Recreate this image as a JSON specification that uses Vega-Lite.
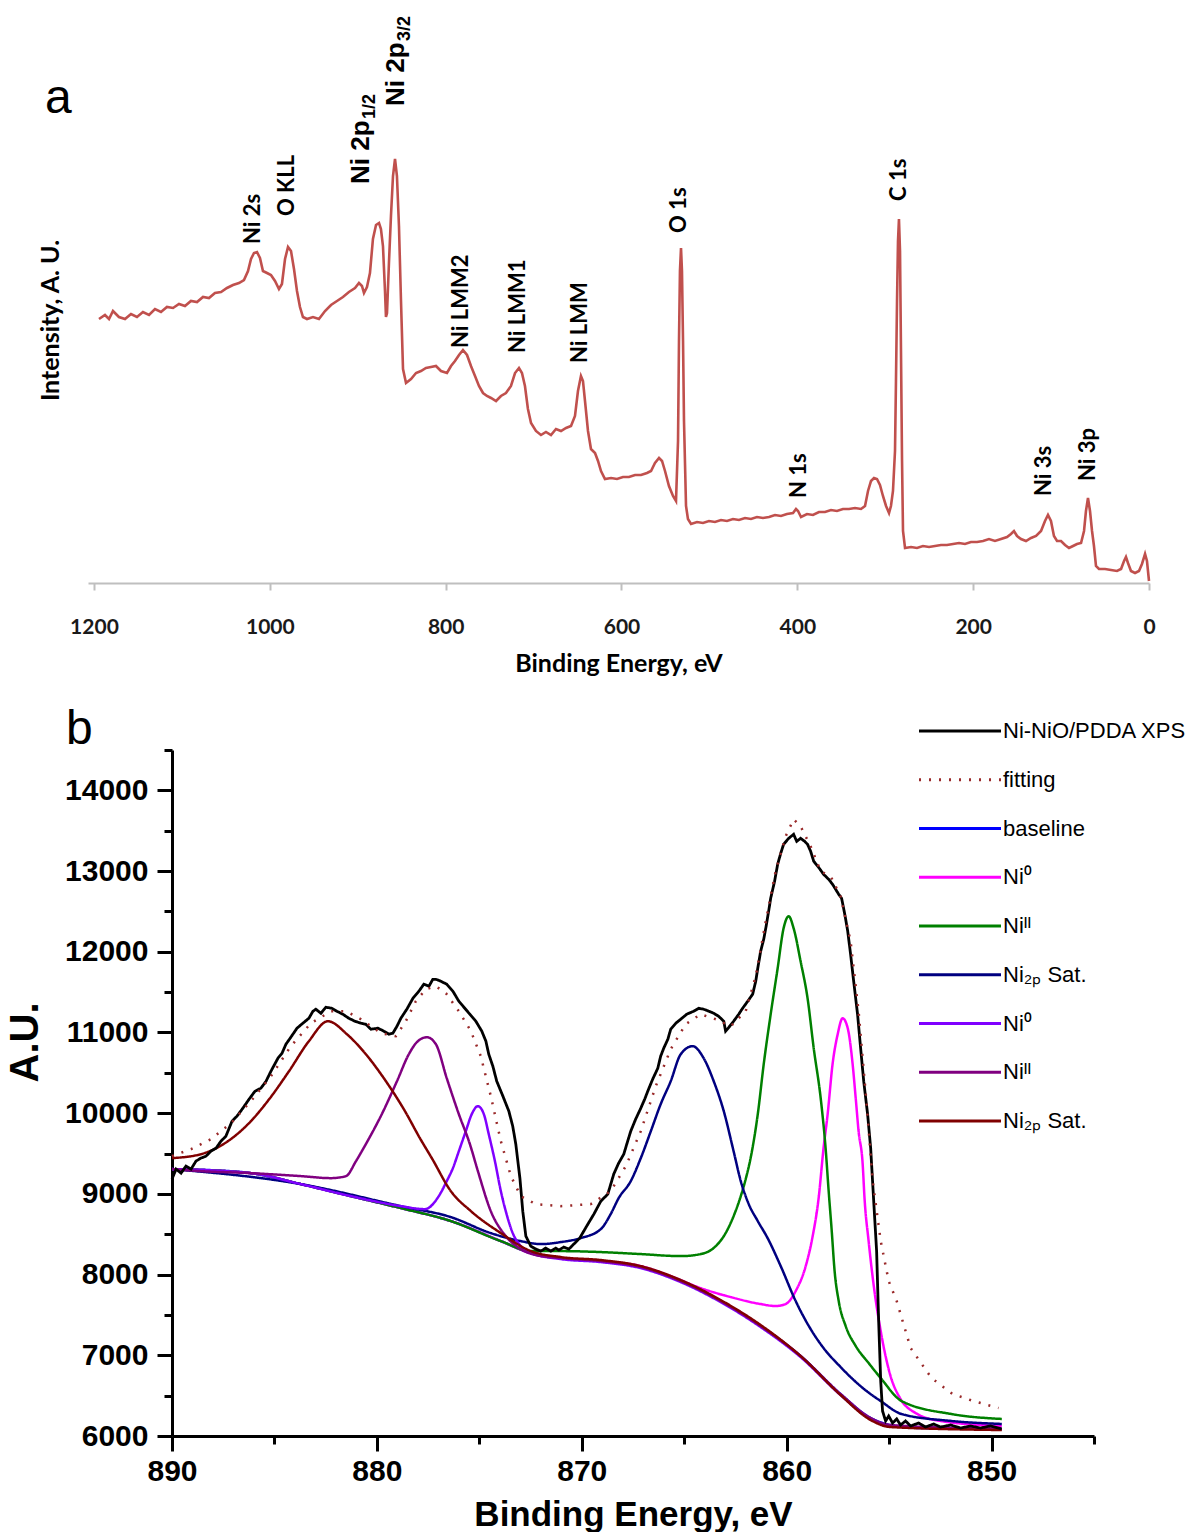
{
"$schema": "https://vega.github.io/schema/vega-lite/v6.json",
"background": "white",
"padding": {"left": 5, "top": 15, "right": 0, "bottom": 0},
"spacing": 30,
"config": {"view": {"stroke": null}, "font": "Liberation Sans"},
"datasets": {
"survey": [
{"E":1194.3,"I":264},{"E":1187.5,"I":268},{"E":1182.9,"I":264},{"E":1178.4,"I":272},{"E":1171.6,"I":266},{"E":1164.7,"I":264},{"E":1157.9,"I":269},{"E":1151.1,"I":266},{"E":1144.3,"I":271},{"E":1137.4,"I":268},{"E":1130.6,"I":274},{"E":1123.8,"I":271},{"E":1117.0,"I":276},{"E":1110.1,"I":275},{"E":1103.3,"I":279},{"E":1096.5,"I":277},{"E":1089.7,"I":282},{"E":1082.8,"I":281},{"E":1076.0,"I":286},{"E":1069.2,"I":285},{"E":1062.4,"I":290},{"E":1055.5,"I":291},{"E":1048.7,"I":295},{"E":1041.9,"I":298},{"E":1035.1,"I":300},{"E":1029.4,"I":303},{"E":1024.8,"I":312},{"E":1021.4,"I":324},{"E":1018.0,"I":330},{"E":1014.6,"I":331},{"E":1011.2,"I":325},{"E":1007.8,"I":312},{"E":1003.2,"I":310},{"E":998.7,"I":308},{"E":994.1,"I":302},{"E":989.6,"I":294},{"E":986.2,"I":299},{"E":982.7,"I":324},{"E":979.3,"I":336},{"E":975.9,"I":332},{"E":972.5,"I":314},{"E":969.1,"I":292},{"E":965.7,"I":276},{"E":962.3,"I":266},{"E":957.7,"I":264},{"E":950.9,"I":266},{"E":944.1,"I":264},{"E":937.2,"I":272},{"E":930.4,"I":278},{"E":923.6,"I":282},{"E":916.8,"I":286},{"E":910.0,"I":291},{"E":903.1,"I":295},{"E":898.6,"I":300},{"E":895.2,"I":297},{"E":892.9,"I":290},{"E":889.5,"I":296},{"E":886.1,"I":310},{"E":882.7,"I":344},{"E":879.2,"I":358},{"E":875.8,"I":360},{"E":873.6,"I":354},{"E":871.3,"I":337},{"E":869.0,"I":292},{"E":867.9,"I":266},{"E":866.7,"I":270},{"E":864.5,"I":320},{"E":862.2,"I":367},{"E":859.9,"I":407},{"E":857.6,"I":424},{"E":855.4,"I":407},{"E":853.1,"I":357},{"E":850.8,"I":282},{"E":848.5,"I":214},{"E":845.1,"I":200},{"E":839.4,"I":204},{"E":833.7,"I":210},{"E":828.1,"I":212},{"E":822.4,"I":215},{"E":816.7,"I":216},{"E":811.0,"I":217},{"E":805.3,"I":212},{"E":798.5,"I":210},{"E":793.9,"I":217},{"E":789.4,"I":222},{"E":784.8,"I":228},{"E":780.3,"I":233},{"E":775.7,"I":228},{"E":771.2,"I":217},{"E":766.6,"I":207},{"E":762.1,"I":197},{"E":757.5,"I":190},{"E":753.0,"I":187},{"E":748.4,"I":185},{"E":742.7,"I":182},{"E":737.1,"I":187},{"E":731.4,"I":190},{"E":725.7,"I":197},{"E":721.1,"I":210},{"E":716.6,"I":215},{"E":713.2,"I":210},{"E":709.8,"I":197},{"E":706.4,"I":174},{"E":702.9,"I":160},{"E":697.3,"I":152},{"E":691.6,"I":148},{"E":685.9,"I":151},{"E":680.2,"I":148},{"E":674.5,"I":154},{"E":668.8,"I":152},{"E":663.1,"I":155},{"E":657.4,"I":157},{"E":652.9,"I":167},{"E":649.5,"I":192},{"E":646.1,"I":207},{"E":643.8,"I":202},{"E":641.5,"I":182},{"E":638.1,"I":152},{"E":634.7,"I":134},{"E":630.1,"I":130},{"E":626.7,"I":122},{"E":623.3,"I":112},{"E":618.8,"I":104},{"E":611.9,"I":105},{"E":605.1,"I":104},{"E":598.3,"I":106},{"E":591.5,"I":106},{"E":584.6,"I":108},{"E":577.8,"I":108},{"E":571.0,"I":110},{"E":566.4,"I":112},{"E":561.9,"I":120},{"E":557.3,"I":125},{"E":553.9,"I":122},{"E":550.5,"I":112},{"E":546.0,"I":97},{"E":541.4,"I":87},{"E":538.0,"I":82},{"E":535.7,"I":142},{"E":534.6,"I":242},{"E":533.5,"I":312},{"E":532.3,"I":335},{"E":531.2,"I":312},{"E":530.0,"I":242},{"E":528.9,"I":162},{"E":526.6,"I":77},{"E":524.4,"I":64},{"E":520.9,"I":59},{"E":514.1,"I":61},{"E":507.3,"I":60},{"E":500.5,"I":62},{"E":493.7,"I":61},{"E":486.8,"I":63},{"E":480.0,"I":62},{"E":473.2,"I":64},{"E":466.4,"I":63},{"E":459.5,"I":65},{"E":452.7,"I":64},{"E":445.9,"I":66},{"E":439.1,"I":65},{"E":432.2,"I":66},{"E":425.4,"I":68},{"E":418.6,"I":67},{"E":411.8,"I":69},{"E":404.9,"I":70},{"E":401.5,"I":74},{"E":399.2,"I":72},{"E":395.8,"I":66},{"E":389.0,"I":69},{"E":382.2,"I":68},{"E":375.4,"I":71},{"E":368.5,"I":71},{"E":361.7,"I":73},{"E":354.9,"I":72},{"E":348.1,"I":74},{"E":341.2,"I":74},{"E":334.4,"I":75},{"E":327.6,"I":74},{"E":323.0,"I":77},{"E":319.6,"I":92},{"E":316.2,"I":102},{"E":312.8,"I":105},{"E":309.4,"I":104},{"E":306.0,"I":98},{"E":302.6,"I":87},{"E":299.1,"I":77},{"E":295.7,"I":70},{"E":293.5,"I":77},{"E":291.2,"I":92},{"E":288.9,"I":132},{"E":287.8,"I":202},{"E":286.6,"I":282},{"E":285.5,"I":342},{"E":284.4,"I":364},{"E":283.2,"I":332},{"E":282.1,"I":232},{"E":280.9,"I":122},{"E":279.8,"I":52},{"E":277.5,"I":35},{"E":270.7,"I":36},{"E":263.9,"I":35},{"E":257.1,"I":37},{"E":250.2,"I":36},{"E":243.4,"I":37},{"E":236.6,"I":38},{"E":229.8,"I":38},{"E":222.9,"I":39},{"E":216.1,"I":40},{"E":209.3,"I":39},{"E":202.5,"I":41},{"E":195.6,"I":41},{"E":188.8,"I":42},{"E":182.0,"I":44},{"E":175.2,"I":42},{"E":168.3,"I":44},{"E":161.5,"I":46},{"E":157.0,"I":49},{"E":153.6,"I":52},{"E":150.1,"I":47},{"E":145.6,"I":44},{"E":139.9,"I":42},{"E":134.2,"I":45},{"E":128.5,"I":47},{"E":122.8,"I":52},{"E":118.3,"I":62},{"E":114.9,"I":68},{"E":111.5,"I":62},{"E":108.1,"I":47},{"E":104.6,"I":42},{"E":100.1,"I":42},{"E":95.5,"I":38},{"E":91.0,"I":35},{"E":86.4,"I":37},{"E":81.9,"I":39},{"E":77.3,"I":40},{"E":73.9,"I":52},{"E":71.7,"I":72},{"E":69.4,"I":85},{"E":67.1,"I":72},{"E":64.8,"I":52},{"E":62.6,"I":37},{"E":60.3,"I":17},{"E":56.9,"I":14},{"E":50.0,"I":14},{"E":43.2,"I":13},{"E":36.4,"I":12},{"E":31.8,"I":14},{"E":28.4,"I":22},{"E":26.2,"I":26},{"E":23.9,"I":20},{"E":20.5,"I":12},{"E":15.9,"I":10},{"E":11.4,"I":12},{"E":8.0,"I":19},{"E":4.5,"I":29},{"E":2.3,"I":22},{"E":0,"I":2}
],
"peaks": [
{"E":1019.2,"I":339,"label":"Ni 2s"},{"E":980.5,"I":367,"label":"O KLL"},{"E":782.6,"I":235,"label":"Ni LMM2"},{"E":717.7,"I":230,"label":"Ni LMM1"},{"E":647.2,"I":220,"label":"Ni LMM"},{"E":534.6,"I":350,"label":"O 1s"},{"E":398.1,"I":85,"label":"N 1s"},{"E":284.4,"I":382,"label":"C 1s"},{"E":119.4,"I":87,"label":"Ni 3s"},{"E":69.4,"I":102,"label":"Ni 3p"}
],
"ni2p": [
{"E":896.3,"I":399,"label":"Ni 2p"},{"E":856.5,"I":477,"label":"Ni 2p"}
],
"ni2psub": [
{"E":886.1,"I":464,"label":"1/2"},{"E":846.3,"I":542,"label":"3/2"}
],
"nip": [
{"s":"XPS","E":890.00,"V":9183},{"s":"XPS","E":889.80,"V":9307},{"s":"XPS","E":889.56,"V":9257},{"s":"XPS","E":889.32,"V":9344},{"s":"XPS","E":889.07,"V":9307},{"s":"XPS","E":888.83,"V":9406},{"s":"XPS","E":888.59,"V":9443},{"s":"XPS","E":888.34,"V":9468},{"s":"XPS","E":888.10,"V":9529},{"s":"XPS","E":887.85,"V":9567},{"s":"XPS","E":887.61,"V":9653},{"s":"XPS","E":887.37,"V":9715},{"s":"XPS","E":887.07,"V":9901},{"s":"XPS","E":886.83,"V":9963},{"s":"XPS","E":886.54,"V":10062},{"s":"XPS","E":886.24,"V":10173},{"s":"XPS","E":885.95,"V":10272},{"s":"XPS","E":885.66,"V":10310},{"s":"XPS","E":885.41,"V":10396},{"s":"XPS","E":885.17,"V":10520},{"s":"XPS","E":884.83,"V":10681},{"s":"XPS","E":884.63,"V":10743},{"s":"XPS","E":884.44,"V":10854},{"s":"XPS","E":884.20,"V":10941},{"s":"XPS","E":883.90,"V":11053},{"s":"XPS","E":883.61,"V":11115},{"s":"XPS","E":883.32,"V":11176},{"s":"XPS","E":883.12,"V":11263},{"s":"XPS","E":882.98,"V":11288},{"s":"XPS","E":882.73,"V":11238},{"s":"XPS","E":882.49,"V":11313},{"s":"XPS","E":882.20,"V":11300},{"s":"XPS","E":881.95,"V":11263},{"s":"XPS","E":881.66,"V":11226},{"s":"XPS","E":881.37,"V":11176},{"s":"XPS","E":881.07,"V":11139},{"s":"XPS","E":880.78,"V":11115},{"s":"XPS","E":880.54,"V":11102},{"s":"XPS","E":880.29,"V":11040},{"s":"XPS","E":879.95,"V":11053},{"s":"XPS","E":879.66,"V":11016},{"s":"XPS","E":879.41,"V":10978},{"s":"XPS","E":879.22,"V":10991},{"s":"XPS","E":879.02,"V":11077},{"s":"XPS","E":878.83,"V":11176},{"s":"XPS","E":878.54,"V":11288},{"s":"XPS","E":878.24,"V":11424},{"s":"XPS","E":877.95,"V":11511},{"s":"XPS","E":877.71,"V":11598},{"s":"XPS","E":877.46,"V":11573},{"s":"XPS","E":877.27,"V":11659},{"s":"XPS","E":877.12,"V":11659},{"s":"XPS","E":876.88,"V":11635},{"s":"XPS","E":876.59,"V":11598},{"s":"XPS","E":876.29,"V":11511},{"s":"XPS","E":876.00,"V":11387},{"s":"XPS","E":875.71,"V":11300},{"s":"XPS","E":875.46,"V":11226},{"s":"XPS","E":875.17,"V":11139},{"s":"XPS","E":874.88,"V":11016},{"s":"XPS","E":874.68,"V":10892},{"s":"XPS","E":874.54,"V":10731},{"s":"XPS","E":874.34,"V":10582},{"s":"XPS","E":874.15,"V":10396},{"s":"XPS","E":873.85,"V":10211},{"s":"XPS","E":873.56,"V":10025},{"s":"XPS","E":873.37,"V":9839},{"s":"XPS","E":873.22,"V":9616},{"s":"XPS","E":873.02,"V":9195},{"s":"XPS","E":872.88,"V":8786},{"s":"XPS","E":872.73,"V":8477},{"s":"XPS","E":872.49,"V":8353},{"s":"XPS","E":872.24,"V":8316},{"s":"XPS","E":872.00,"V":8291},{"s":"XPS","E":871.76,"V":8328},{"s":"XPS","E":871.51,"V":8291},{"s":"XPS","E":871.27,"V":8328},{"s":"XPS","E":871.12,"V":8303},{"s":"XPS","E":870.88,"V":8341},{"s":"XPS","E":870.63,"V":8316},{"s":"XPS","E":870.44,"V":8365},{"s":"XPS","E":870.24,"V":8415},{"s":"XPS","E":870.10,"V":8452},{"s":"XPS","E":869.76,"V":8601},{"s":"XPS","E":869.41,"V":8749},{"s":"XPS","E":869.07,"V":8910},{"s":"XPS","E":868.73,"V":8997},{"s":"XPS","E":868.44,"V":9245},{"s":"XPS","E":868.20,"V":9381},{"s":"XPS","E":867.95,"V":9492},{"s":"XPS","E":867.76,"V":9653},{"s":"XPS","E":867.61,"V":9777},{"s":"XPS","E":867.37,"V":9926},{"s":"XPS","E":867.12,"V":10062},{"s":"XPS","E":866.93,"V":10173},{"s":"XPS","E":866.78,"V":10272},{"s":"XPS","E":866.54,"V":10421},{"s":"XPS","E":866.29,"V":10557},{"s":"XPS","E":866.15,"V":10706},{"s":"XPS","E":866.00,"V":10805},{"s":"XPS","E":865.80,"V":10916},{"s":"XPS","E":865.66,"V":11040},{"s":"XPS","E":865.41,"V":11115},{"s":"XPS","E":865.17,"V":11164},{"s":"XPS","E":864.88,"V":11226},{"s":"XPS","E":864.54,"V":11263},{"s":"XPS","E":864.29,"V":11300},{"s":"XPS","E":864.05,"V":11288},{"s":"XPS","E":863.80,"V":11263},{"s":"XPS","E":863.56,"V":11238},{"s":"XPS","E":863.32,"V":11201},{"s":"XPS","E":863.07,"V":11139},{"s":"XPS","E":862.98,"V":11016},{"s":"XPS","E":862.78,"V":11077},{"s":"XPS","E":862.59,"V":11139},{"s":"XPS","E":862.34,"V":11226},{"s":"XPS","E":862.15,"V":11300},{"s":"XPS","E":861.90,"V":11387},{"s":"XPS","E":861.66,"V":11474},{"s":"XPS","E":861.51,"V":11635},{"s":"XPS","E":861.41,"V":11796},{"s":"XPS","E":861.27,"V":12006},{"s":"XPS","E":861.12,"V":12155},{"s":"XPS","E":861.02,"V":12291},{"s":"XPS","E":860.88,"V":12502},{"s":"XPS","E":860.78,"V":12663},{"s":"XPS","E":860.59,"V":12873},{"s":"XPS","E":860.44,"V":13084},{"s":"XPS","E":860.29,"V":13220},{"s":"XPS","E":860.15,"V":13331},{"s":"XPS","E":859.90,"V":13406},{"s":"XPS","E":859.66,"V":13455},{"s":"XPS","E":859.51,"V":13368},{"s":"XPS","E":859.32,"V":13406},{"s":"XPS","E":859.12,"V":13368},{"s":"XPS","E":858.98,"V":13331},{"s":"XPS","E":858.83,"V":13245},{"s":"XPS","E":858.68,"V":13121},{"s":"XPS","E":858.44,"V":13046},{"s":"XPS","E":858.20,"V":12960},{"s":"XPS","E":857.95,"V":12898},{"s":"XPS","E":857.76,"V":12836},{"s":"XPS","E":857.61,"V":12774},{"s":"XPS","E":857.46,"V":12712},{"s":"XPS","E":857.32,"V":12663},{"s":"XPS","E":857.22,"V":12539},{"s":"XPS","E":857.12,"V":12403},{"s":"XPS","E":857.02,"V":12254},{"s":"XPS","E":856.88,"V":11969},{"s":"XPS","E":856.73,"V":11635},{"s":"XPS","E":856.54,"V":11226},{"s":"XPS","E":856.39,"V":10805},{"s":"XPS","E":856.24,"V":10396},{"s":"XPS","E":856.05,"V":9988},{"s":"XPS","E":855.90,"V":9567},{"s":"XPS","E":855.76,"V":8947},{"s":"XPS","E":855.61,"V":8291},{"s":"XPS","E":855.51,"V":7424},{"s":"XPS","E":855.41,"V":6681},{"s":"XPS","E":855.32,"V":6310},{"s":"XPS","E":855.17,"V":6186},{"s":"XPS","E":855.02,"V":6248},{"s":"XPS","E":854.83,"V":6161},{"s":"XPS","E":854.63,"V":6211},{"s":"XPS","E":854.44,"V":6136},{"s":"XPS","E":854.20,"V":6186},{"s":"XPS","E":853.95,"V":6124},{"s":"XPS","E":853.56,"V":6161},{"s":"XPS","E":853.22,"V":6111},{"s":"XPS","E":852.83,"V":6149},{"s":"XPS","E":852.49,"V":6111},{"s":"XPS","E":852.00,"V":6136},{"s":"XPS","E":851.51,"V":6099},{"s":"XPS","E":851.02,"V":6124},{"s":"XPS","E":850.54,"V":6099},{"s":"XPS","E":850.05,"V":6124},{"s":"XPS","E":849.51,"V":6087},
{"s":"fit","E":890.00,"V":9468},{"s":"fit","E":889.07,"V":9554},{"s":"fit","E":888.10,"V":9678},{"s":"fit","E":887.12,"V":9876},{"s":"fit","E":886.15,"V":10149},{"s":"fit","E":885.17,"V":10458},{"s":"fit","E":884.20,"V":10830},{"s":"fit","E":883.22,"V":11115},{"s":"fit","E":882.24,"V":11263},{"s":"fit","E":881.51,"V":11263},{"s":"fit","E":880.78,"V":11164},{"s":"fit","E":879.80,"V":10991},{"s":"fit","E":879.07,"V":10954},{"s":"fit","E":878.59,"V":11139},{"s":"fit","E":878.10,"V":11387},{"s":"fit","E":877.61,"V":11536},{"s":"fit","E":877.12,"V":11573},{"s":"fit","E":876.63,"V":11486},{"s":"fit","E":876.00,"V":11263},{"s":"fit","E":875.41,"V":11016},{"s":"fit","E":874.93,"V":10706},{"s":"fit","E":874.44,"V":10211},{"s":"fit","E":873.95,"V":9653},{"s":"fit","E":873.46,"V":9220},{"s":"fit","E":872.98,"V":8972},{"s":"fit","E":872.24,"V":8873},{"s":"fit","E":871.02,"V":8848},{"s":"fit","E":869.56,"V":8873},{"s":"fit","E":868.59,"V":9034},{"s":"fit","E":867.85,"V":9344},{"s":"fit","E":867.12,"V":9777},{"s":"fit","E":866.39,"V":10334},{"s":"fit","E":865.66,"V":10793},{"s":"fit","E":864.93,"V":11102},{"s":"fit","E":864.20,"V":11226},{"s":"fit","E":863.46,"V":11164},{"s":"fit","E":862.73,"V":11077},{"s":"fit","E":862.00,"V":11263},{"s":"fit","E":861.51,"V":11697},{"s":"fit","E":861.02,"V":12378},{"s":"fit","E":860.54,"V":12997},{"s":"fit","E":860.05,"V":13430},{"s":"fit","E":859.66,"V":13641},{"s":"fit","E":859.32,"V":13554},{"s":"fit","E":858.83,"V":13306},{"s":"fit","E":858.34,"V":12997},{"s":"fit","E":857.85,"V":12935},{"s":"fit","E":857.37,"V":12687},{"s":"fit","E":856.88,"V":12130},{"s":"fit","E":856.49,"V":11263},{"s":"fit","E":856.15,"V":10272},{"s":"fit","E":855.80,"V":9158},{"s":"fit","E":855.41,"V":8415},{"s":"fit","E":855.02,"V":7919},{"s":"fit","E":854.63,"V":7672},{"s":"fit","E":853.95,"V":7090},{"s":"fit","E":852.93,"V":6718},{"s":"fit","E":851.90,"V":6520},{"s":"fit","E":850.88,"V":6433},{"s":"fit","E":849.66,"V":6347},
{"s":"base","E":890.00,"V":9307},{"s":"base","E":888.10,"V":9294},{"s":"base","E":886.15,"V":9257},{"s":"base","E":883.71,"V":9121},{"s":"base","E":881.27,"V":8972},{"s":"base","E":878.83,"V":8824},{"s":"base","E":876.39,"V":8663},{"s":"base","E":873.95,"V":8415},{"s":"base","E":872.49,"V":8266},{"s":"base","E":871.02,"V":8204},{"s":"base","E":869.07,"V":8167},{"s":"base","E":867.12,"V":8093},{"s":"base","E":865.17,"V":7919},{"s":"base","E":863.22,"V":7672},{"s":"base","E":861.27,"V":7362},{"s":"base","E":859.32,"V":6991},{"s":"base","E":857.37,"V":6520},{"s":"base","E":855.90,"V":6223},{"s":"base","E":854.93,"V":6136},{"s":"base","E":853.46,"V":6099},{"s":"base","E":849.50,"V":6087},
{"s":"Ni0a","E":890.00,"V":9307},{"s":"Ni0a","E":886.15,"V":9257},{"s":"Ni0a","E":883.71,"V":9121},{"s":"Ni0a","E":881.27,"V":8972},{"s":"Ni0a","E":878.83,"V":8824},{"s":"Ni0a","E":876.39,"V":8663},{"s":"Ni0a","E":873.95,"V":8415},{"s":"Ni0a","E":872.49,"V":8266},{"s":"Ni0a","E":871.02,"V":8204},{"s":"Ni0a","E":869.07,"V":8167},{"s":"Ni0a","E":867.12,"V":8105},{"s":"Ni0a","E":865.66,"V":7981},{"s":"Ni0a","E":864.20,"V":7833},{"s":"Ni0a","E":862.73,"V":7721},{"s":"Ni0a","E":861.27,"V":7635},{"s":"Ni0a","E":860.54,"V":7610},{"s":"Ni0a","E":860.05,"V":7635},{"s":"Ni0a","E":859.56,"V":7796},{"s":"Ni0a","E":859.07,"V":8105},{"s":"Ni0a","E":858.73,"V":8477},{"s":"Ni0a","E":858.44,"V":8947},{"s":"Ni0a","E":858.20,"V":9567},{"s":"Ni0a","E":858.00,"V":9988},{"s":"Ni0a","E":857.76,"V":10607},{"s":"Ni0a","E":857.51,"V":10978},{"s":"Ni0a","E":857.27,"V":11176},{"s":"Ni0a","E":857.02,"V":11053},{"s":"Ni0a","E":856.78,"V":10607},{"s":"Ni0a","E":856.63,"V":10186},{"s":"Ni0a","E":856.49,"V":9777},{"s":"Ni0a","E":856.29,"V":9368},{"s":"Ni0a","E":856.20,"V":8947},{"s":"Ni0a","E":856.00,"V":8415},{"s":"Ni0a","E":855.76,"V":7882},{"s":"Ni0a","E":855.41,"V":7300},{"s":"Ni0a","E":854.93,"V":6743},{"s":"Ni0a","E":854.44,"V":6458},{"s":"Ni0a","E":853.71,"V":6285},{"s":"Ni0a","E":852.49,"V":6186},{"s":"Ni0a","E":849.50,"V":6124},
{"s":"NiIIa","E":890.00,"V":9307},{"s":"NiIIa","E":886.15,"V":9257},{"s":"NiIIa","E":883.71,"V":9121},{"s":"NiIIa","E":881.27,"V":8972},{"s":"NiIIa","E":878.83,"V":8824},{"s":"NiIIa","E":876.39,"V":8663},{"s":"NiIIa","E":873.95,"V":8415},{"s":"NiIIa","E":872.49,"V":8291},{"s":"NiIIa","E":871.02,"V":8291},{"s":"NiIIa","E":869.07,"V":8279},{"s":"NiIIa","E":867.12,"V":8254},{"s":"NiIIa","E":865.17,"V":8229},{"s":"NiIIa","E":864.20,"V":8254},{"s":"NiIIa","E":863.46,"V":8353},{"s":"NiIIa","E":862.98,"V":8514},{"s":"NiIIa","E":862.59,"V":8724},{"s":"NiIIa","E":862.24,"V":8972},{"s":"NiIIa","E":862.00,"V":9183},{"s":"NiIIa","E":861.76,"V":9443},{"s":"NiIIa","E":861.41,"V":9988},{"s":"NiIIa","E":861.12,"V":10607},{"s":"NiIIa","E":860.78,"V":11226},{"s":"NiIIa","E":860.44,"V":11796},{"s":"NiIIa","E":860.15,"V":12291},{"s":"NiIIa","E":859.90,"V":12440},{"s":"NiIIa","E":859.66,"V":12291},{"s":"NiIIa","E":859.32,"V":11882},{"s":"NiIIa","E":858.98,"V":11424},{"s":"NiIIa","E":858.68,"V":10805},{"s":"NiIIa","E":858.34,"V":10186},{"s":"NiIIa","E":858.10,"V":9567},{"s":"NiIIa","E":857.95,"V":9034},{"s":"NiIIa","E":857.80,"V":8539},{"s":"NiIIa","E":857.66,"V":8043},{"s":"NiIIa","E":857.46,"V":7672},{"s":"NiIIa","E":857.12,"V":7362},{"s":"NiIIa","E":856.63,"V":7115},{"s":"NiIIa","E":856.00,"V":6904},{"s":"NiIIa","E":855.41,"V":6718},{"s":"NiIIa","E":854.39,"V":6433},{"s":"NiIIa","E":851.95,"V":6272},{"s":"NiIIa","E":849.50,"V":6211},
{"s":"Sata","E":890.00,"V":9307},{"s":"Sata","E":883.71,"V":9121},{"s":"Sata","E":878.83,"V":8848},{"s":"Sata","E":876.39,"V":8712},{"s":"Sata","E":874.44,"V":8514},{"s":"Sata","E":872.98,"V":8415},{"s":"Sata","E":872.00,"V":8378},{"s":"Sata","E":871.02,"V":8403},{"s":"Sata","E":870.05,"V":8452},{"s":"Sata","E":869.07,"V":8564},{"s":"Sata","E":868.59,"V":8749},{"s":"Sata","E":868.20,"V":8947},{"s":"Sata","E":867.61,"V":9158},{"s":"Sata","E":867.12,"V":9443},{"s":"Sata","E":866.63,"V":9777},{"s":"Sata","E":866.15,"V":10111},{"s":"Sata","E":865.66,"V":10396},{"s":"Sata","E":865.17,"V":10731},{"s":"Sata","E":864.59,"V":10830},{"s":"Sata","E":864.05,"V":10681},{"s":"Sata","E":863.56,"V":10396},{"s":"Sata","E":863.07,"V":10025},{"s":"Sata","E":862.59,"V":9529},{"s":"Sata","E":862.24,"V":9158},{"s":"Sata","E":861.85,"V":8873},{"s":"Sata","E":861.41,"V":8663},{"s":"Sata","E":860.93,"V":8452},{"s":"Sata","E":860.29,"V":8105},{"s":"Sata","E":859.56,"V":7672},{"s":"Sata","E":858.83,"V":7325},{"s":"Sata","E":858.20,"V":7090},{"s":"Sata","E":857.37,"V":6855},{"s":"Sata","E":856.78,"V":6706},{"s":"Sata","E":856.10,"V":6557},{"s":"Sata","E":855.41,"V":6433},{"s":"Sata","E":854.39,"V":6272},{"s":"Sata","E":851.95,"V":6186},{"s":"Sata","E":849.50,"V":6149},
{"s":"Ni0b","E":890.00,"V":9307},{"s":"Ni0b","E":886.15,"V":9257},{"s":"Ni0b","E":883.71,"V":9121},{"s":"Ni0b","E":881.27,"V":8972},{"s":"Ni0b","E":878.83,"V":8848},{"s":"Ni0b","E":877.66,"V":8811},{"s":"Ni0b","E":876.98,"V":8972},{"s":"Ni0b","E":876.59,"V":9158},{"s":"Ni0b","E":876.29,"V":9319},{"s":"Ni0b","E":876.00,"V":9529},{"s":"Ni0b","E":875.66,"V":9777},{"s":"Ni0b","E":875.37,"V":9988},{"s":"Ni0b","E":875.07,"V":10087},{"s":"Ni0b","E":874.78,"V":9988},{"s":"Ni0b","E":874.54,"V":9740},{"s":"Ni0b","E":874.24,"V":9406},{"s":"Ni0b","E":873.95,"V":9034},{"s":"Ni0b","E":873.71,"V":8786},{"s":"Ni0b","E":873.37,"V":8514},{"s":"Ni0b","E":872.98,"V":8353},{"s":"Ni0b","E":872.49,"V":8266},{"s":"Ni0b","E":871.02,"V":8192},{"s":"Ni0b","E":869.07,"V":8155},{"s":"Ni0b","E":867.12,"V":8080},{"s":"Ni0b","E":865.17,"V":7907},{"s":"Ni0b","E":863.22,"V":7659},{"s":"Ni0b","E":861.27,"V":7350},{"s":"Ni0b","E":859.32,"V":6978},{"s":"Ni0b","E":857.37,"V":6508},{"s":"Ni0b","E":855.90,"V":6211},{"s":"Ni0b","E":854.93,"V":6124},{"s":"Ni0b","E":849.50,"V":6087},
{"s":"NiIIb","E":890.00,"V":9307},{"s":"NiIIb","E":888.59,"V":9282},{"s":"NiIIb","E":886.15,"V":9257},{"s":"NiIIb","E":883.71,"V":9220},{"s":"NiIIb","E":882.24,"V":9195},{"s":"NiIIb","E":881.51,"V":9220},{"s":"NiIIb","E":881.02,"V":9406},{"s":"NiIIb","E":880.54,"V":9616},{"s":"NiIIb","E":879.76,"V":9988},{"s":"NiIIb","E":879.02,"V":10396},{"s":"NiIIb","E":878.44,"V":10731},{"s":"NiIIb","E":878.00,"V":10892},{"s":"NiIIb","E":877.56,"V":10941},{"s":"NiIIb","E":877.12,"V":10854},{"s":"NiIIb","E":876.59,"V":10433},{"s":"NiIIb","E":876.00,"V":9988},{"s":"NiIIb","E":875.46,"V":9616},{"s":"NiIIb","E":875.07,"V":9282},{"s":"NiIIb","E":874.44,"V":8786},{"s":"NiIIb","E":873.71,"V":8477},{"s":"NiIIb","E":872.98,"V":8316},{"s":"NiIIb","E":872.24,"V":8242},{"s":"NiIIb","E":871.02,"V":8204},{"s":"NiIIb","E":869.07,"V":8167},{"s":"NiIIb","E":867.12,"V":8093},{"s":"NiIIb","E":865.17,"V":7919},{"s":"NiIIb","E":863.22,"V":7672},{"s":"NiIIb","E":861.27,"V":7362},{"s":"NiIIb","E":859.32,"V":6991},{"s":"NiIIb","E":857.37,"V":6520},{"s":"NiIIb","E":855.90,"V":6223},{"s":"NiIIb","E":854.93,"V":6136},{"s":"NiIIb","E":849.50,"V":6087},
{"s":"Satb","E":890.00,"V":9443},{"s":"Satb","E":888.59,"V":9492},{"s":"Satb","E":887.07,"V":9690},{"s":"Satb","E":886.15,"V":9901},{"s":"Satb","E":885.22,"V":10186},{"s":"Satb","E":884.29,"V":10520},{"s":"Satb","E":883.32,"V":10892},{"s":"Satb","E":882.39,"V":11139},{"s":"Satb","E":881.46,"V":10978},{"s":"Satb","E":880.54,"V":10731},{"s":"Satb","E":879.56,"V":10396},{"s":"Satb","E":878.63,"V":10025},{"s":"Satb","E":877.90,"V":9690},{"s":"Satb","E":877.32,"V":9443},{"s":"Satb","E":876.39,"V":9034},{"s":"Satb","E":875.41,"V":8786},{"s":"Satb","E":873.95,"V":8514},{"s":"Satb","E":872.49,"V":8291},{"s":"Satb","E":871.02,"V":8217},{"s":"Satb","E":869.07,"V":8180},{"s":"Satb","E":867.12,"V":8105},{"s":"Satb","E":865.17,"V":7932},{"s":"Satb","E":863.22,"V":7684},{"s":"Satb","E":861.27,"V":7375},{"s":"Satb","E":859.32,"V":6991},{"s":"Satb","E":857.37,"V":6508},{"s":"Satb","E":855.90,"V":6198},{"s":"Satb","E":854.93,"V":6111},{"s":"Satb","E":849.50,"V":6074}
]
},
"vconcat": [
{
"width": 1061, "height": 526,
"title": {"text": "a", "anchor": "start", "frame": "group", "orient": "top", "font": "Liberation Sans", "fontSize": 48, "fontWeight": "normal", "color": "black", "baseline": "alphabetic", "offset": 0, "dx": -43, "dy": 145},
"layer": [
{"data": {"name": "survey"}, "mark": {"type": "line", "color": "#c0504d", "strokeWidth": 2.6},
 "encoding": {
  "x": {"field": "E", "type": "quantitative", "scale": {"domain": [1206.8, 0], "nice": false, "zero": false},
   "axis": {"title": "Binding Energy, eV", "values": [1200,1000,800,600,400,200,0], "format": "d", "grid": false, "labelFlush": false, "labelOverlap": false, "domainColor": "#bfbfbf", "domainWidth": 2, "tickColor": "#bfbfbf", "tickWidth": 2, "tickSize": 7, "labelFont": "Lato", "labelFontSize": 21, "labelFontWeight": "bold", "labelColor": "#1a1a1a", "labelPadding": 26, "titleFont": "Lato", "titleFontSize": 25, "titleFontWeight": "bold", "titleColor": "black", "titlePadding": 14}},
  "y": {"field": "I", "type": "quantitative", "scale": {"domain": [0, 526], "nice": false},
   "axis": {"title": "Intensity, A. U.", "domain": false, "ticks": false, "labels": false, "grid": false, "minExtent": 0, "titleFont": "Lato", "titleFontSize": 25, "titleFontWeight": "bold", "titleColor": "black", "titlePadding": 25}}
 }},
{"data": {"name": "peaks"}, "mark": {"type": "text", "angle": 270, "align": "left", "baseline": "middle", "font": "Lato", "fontSize": 22, "fontWeight": "bold", "color": "black"},
 "encoding": {"x": {"field": "E", "type": "quantitative"}, "y": {"field": "I", "type": "quantitative"}, "text": {"field": "label"}}},
{"data": {"name": "ni2p"}, "mark": {"type": "text", "angle": 270, "align": "left", "baseline": "middle", "font": "Liberation Sans", "fontSize": 26, "fontWeight": "bold", "color": "black"},
 "encoding": {"x": {"field": "E", "type": "quantitative"}, "y": {"field": "I", "type": "quantitative"}, "text": {"field": "label"}}},
{"data": {"name": "ni2psub"}, "mark": {"type": "text", "angle": 270, "align": "left", "baseline": "middle", "font": "Liberation Sans", "fontSize": 18, "fontWeight": "bold", "color": "black"},
 "encoding": {"x": {"field": "E", "type": "quantitative"}, "y": {"field": "I", "type": "quantitative"}, "text": {"field": "label"}}}
]
},
{
"width": 1006, "height": 686,
"title": {"text": "b", "anchor": "start", "frame": "group", "orient": "top", "font": "Liberation Sans", "fontSize": 48, "fontWeight": "normal", "color": "black", "baseline": "alphabetic", "offset": 6, "dx": -22, "dy": 63},
"data": {"name": "nip"},
"encoding": {
 "x": {"field": "E", "type": "quantitative", "scale": {"domain": [890, 845], "range": [84, 1006], "nice": false, "zero": false},
  "axis": {"title": "Binding Energy, eV", "values": [890,885,880,875,870,865,860,855,850,845], "labelExpr": "datum.value % 10 === 0 ? datum.label : ''", "format": "d", "grid": false, "labelFlush": false, "labelOverlap": false, "domainColor": "black", "domainWidth": 3, "tickColor": "black", "tickWidth": 3, "tickSize": {"condition": {"test": "datum.value % 10 === 0", "value": 15}, "value": 8}, "labelFont": "Liberation Sans", "labelFontSize": 30, "labelFontWeight": "bold", "labelColor": "black", "labelPadding": 5, "titleFont": "Liberation Sans", "titleFontSize": 35, "titleFontWeight": "bold", "titleColor": "black", "titlePadding": 11}},
 "y": {"field": "V", "type": "quantitative", "scale": {"domain": [6000, 14500], "nice": false, "zero": false},
  "axis": {"title": "A.U.", "offset": -84, "values": [6000,6500,7000,7500,8000,8500,9000,9500,10000,10500,11000,11500,12000,12500,13000,13500,14000,14500], "labelExpr": "datum.value % 1000 === 0 ? datum.label : ''", "format": "d", "grid": false, "labelOverlap": false, "domainColor": "black", "domainWidth": 3, "tickColor": "black", "tickWidth": 3, "tickSize": {"condition": {"test": "datum.value % 1000 === 0", "value": 15}, "value": 8}, "labelFont": "Liberation Sans", "labelFontSize": 30, "labelFontWeight": "bold", "labelColor": "black", "labelPadding": 9, "titleFont": "Liberation Sans", "titleFontSize": 40, "titleFontWeight": "bold", "titleColor": "black", "titlePadding": 19, "titleY": 292}},
 "color": {"field": "s", "type": "nominal",
  "scale": {"domain": ["XPS","fit","base","Ni0a","NiIIa","Sata","Ni0b","NiIIb","Satb"], "range": ["#000000","#9a2a2a","#0000ff","#ff00ff","#008000","#000080","#8000ff","#800080","#800000"]},
  "legend": {"title": null, "orient": "none", "legendX": 860, "legendY": 662, "padding": 0, "symbolType": "M-4,0L4,0", "symbolSize": 420, "symbolStrokeWidth": 3, "labelFont": "Liberation Sans", "labelFontSize": 22, "labelColor": "black", "labelOffset": 31, "labelLimit": 400, "rowPadding": 25.75, "labelExpr": "datum.value == 'XPS' ? 'Ni-NiO/PDDA XPS' : datum.value == 'fit' ? 'fitting' : datum.value == 'base' ? 'baseline' : indexof(datum.value, 'Ni0') == 0 ? 'Ni⁰' : indexof(datum.value, 'NiII') == 0 ? 'Niᴵᴵ' : 'Ni₂ₚ Sat.'"}},
 "strokeDash": {"field": "s", "type": "nominal",
  "scale": {"domain": ["XPS","fit","base","Ni0a","NiIIa","Sata","Ni0b","NiIIb","Satb"], "range": [[1,0],[2,8],[1,0],[1,0],[1,0],[1,0],[1,0],[1,0],[1,0]]},
  "legend": {"title": null, "orient": "none", "legendX": 860, "legendY": 662, "padding": 0, "symbolType": "M-4,0L4,0", "symbolSize": 420, "symbolStrokeWidth": 3, "labelFont": "Liberation Sans", "labelFontSize": 22, "labelColor": "black", "labelOffset": 31, "labelLimit": 400, "rowPadding": 25.75, "labelExpr": "datum.value == 'XPS' ? 'Ni-NiO/PDDA XPS' : datum.value == 'fit' ? 'fitting' : datum.value == 'base' ? 'baseline' : indexof(datum.value, 'Ni0') == 0 ? 'Ni⁰' : indexof(datum.value, 'NiII') == 0 ? 'Niᴵᴵ' : 'Ni₂ₚ Sat.'"}}
},
"layer": [
 {"transform": [{"filter": "datum.s != 'XPS' && datum.s != 'fit'"}], "mark": {"type": "line", "strokeWidth": 2.5, "interpolate": "monotone"}},
 {"transform": [{"filter": "datum.s == 'XPS'"}], "mark": {"type": "line", "strokeWidth": 2.8}},
 {"transform": [{"filter": "datum.s == 'fit'"}], "mark": {"type": "line", "strokeWidth": 2.5}}
]
}
]
}
